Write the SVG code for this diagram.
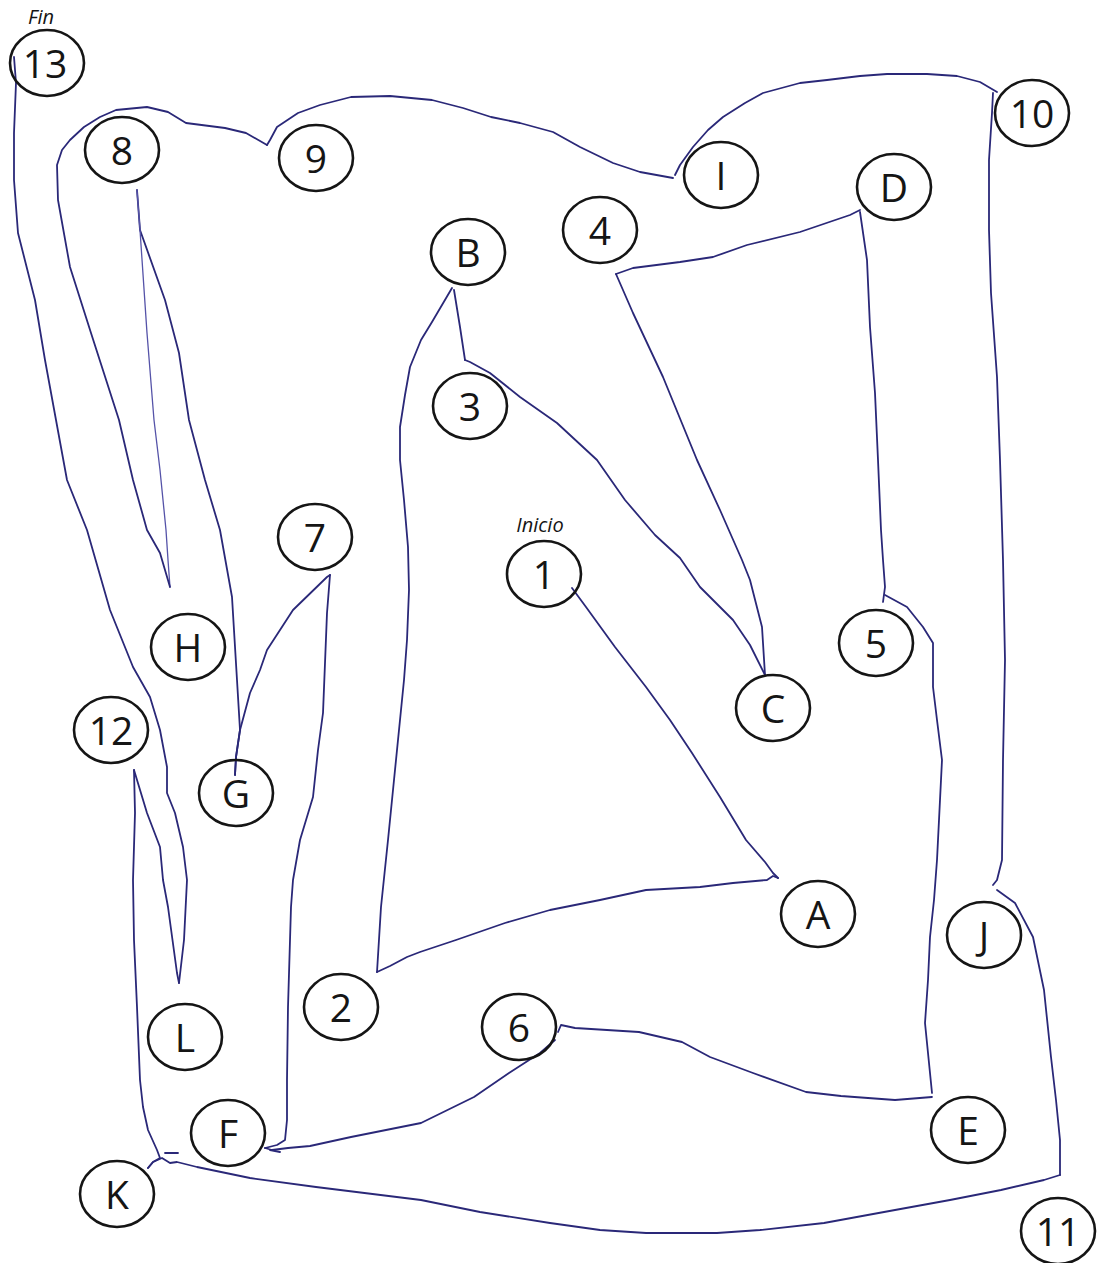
<svg xmlns="http://www.w3.org/2000/svg" width="1097" height="1263" viewBox="0 0 1097 1263">
<style>
.n ellipse{fill:none;stroke:#151515;stroke-width:2.6}
.n text{font-family:"Open Sans","Noto Sans","DejaVu Sans",sans-serif;font-size:39px;fill:#151515;text-anchor:middle}
.lbl{font-family:"Open Sans","Noto Sans","DejaVu Sans",sans-serif;font-size:20px;font-style:italic;fill:#151515;text-anchor:middle}
#connectors path{fill:none;stroke:#2a2878;stroke-width:1.8;stroke-linejoin:round;stroke-linecap:round}
#connectors path.light{stroke:#5553a8;stroke-width:1.3}
</style>
<rect width="1097" height="1263" fill="#ffffff"/>
<g id="connectors">
<path id="e1A" d="M572,588 L586,607 L615,647 L646,687 L670,720 L692,753 L720,797 L746,840 L765,862 L773,873 L778,878"/>
<path id="eA2" d="M778,878 L773,876 L767,880 L733,883 L700,887 L646,890 L600,900 L550,910 L505,923 L456,940 L420,952 L407,957 L390,966 L377,972"/>
<path id="e2B" d="M377,972 L381,907 L388,840 L394,780 L400,720 L404,680 L407,640 L409,590 L408,547 L404,500 L400,460 L400,427 L405,395 L410,367 L421,340 L432,322 L452,288"/>
<path id="eB3" d="M454,290 L460,327 L465,360"/>
<path id="e3C" d="M465,360 L470,362 L490,373 L520,397 L557,423 L597,460 L625,500 L655,535 L680,558 L700,587 L733,620 L750,645 L765,675"/>
<path id="eC4" d="M765,675 L762,627 L750,580 L742,560 L720,510 L697,460 L663,377 L633,313 L616,274"/>
<path id="e4D" d="M616,274 L633,268 L680,262 L713,257 L747,245 L800,232 L850,215 L860,210"/>
<path id="eD5" d="M860,212 L867,260 L870,327 L875,393 L878,460 L881,530 L883,560 L885,587 L883,602"/>
<path id="e5E" d="M885,595 L907,607 L923,627 L933,643 L933,687 L937,720 L942,760 L940,800 L937,860 L934,900 L930,937 L928,980 L925,1023 L932,1093"/>
<path id="eE6" d="M932,1097 L895,1100 L841,1096 L806,1092 L753,1073 L710,1057 L682,1042 L639,1032 L575,1028 L561,1025 L558,1032"/>
<path id="e6F" d="M555,1040 L540,1053 L509,1073 L474,1097 L421,1123 L351,1137 L310,1146 L288,1148 L272,1150 L265,1148"/>
<path id="eF7" d="M265,1148 L277,1145 L285,1140 L287,1120 L287,1080 L288,1007 L291,907 L293,880 L300,840 L313,797 L318,750 L323,713 L327,613 L330,575"/>
<path id="eFhook" d="M270,1150 L280,1152"/>
<path id="e7G" d="M330,575 L327,577 L293,610 L267,650 L260,670 L250,693 L240,730 L236,757 L235,775"/>
<path id="eG8" d="M235,775 L236,757 L240,730 L237,680 L232,597 L220,530 L205,480 L189,420 L179,353 L165,300 L140,230 L137,190"/>
<path id="e8H" class="light" d="M137,190 L140,230 L147,333 L154,420 L160,470 L166,530 L168,560 L170,587"/>
<path id="eH9" d="M170,587 L160,553 L147,530 L133,480 L119,420 L91,333 L70,267 L58,200 L57,165 L62,150 L70,140 L84,127 L100,117 L116,110 L147,107 L168,112 L186,123 L225,128 L246,133 L267,145"/>
<path id="e9I" d="M267,145 L270,140 L277,127 L298,113 L320,105 L351,97 L390,96 L432,100 L463,108 L491,117 L520,123 L553,132 L580,147 L613,163 L640,172 L673,178"/>
<path id="eI10" d="M675,175 L680,165 L693,147 L708,130 L723,117 L745,103 L763,93 L800,83 L827,80 L860,76 L887,74 L927,74 L957,76 L980,82 L997,92"/>
<path id="e10J" d="M993,93 L992,113 L989,160 L989,230 L991,293 L997,377 L1000,460 L1003,560 L1005,660 L1003,760 L1002,860 L997,880 L993,885"/>
<path id="eJ11" d="M997,890 L1015,903 L1033,937 L1044,990 L1051,1057 L1056,1100 L1060,1140 L1060,1175"/>
<path id="e11K" d="M1060,1175 L1044,1180 L1001,1190 L950,1200 L895,1210 L824,1223 L760,1230 L717,1233 L646,1233 L600,1230 L550,1223 L480,1212 L421,1200 L316,1187 L250,1178 L197,1167 L177,1162 L170,1163 L162,1158 L153,1162 L148,1168"/>
<path id="eK12" d="M148,1168 L153,1162 L160,1158 L157,1150 L148,1130 L143,1107 L140,1080 L137,1007 L134,940 L133,880 L135,813 L134,770"/>
<path id="e12L" d="M134,770 L147,813 L160,847 L163,880 L168,907 L177,973 L179,983"/>
<path id="eL13" d="M179,983 L184,940 L186,900 L187,880 L183,847 L175,813 L167,793 L167,767 L160,730 L150,697 L133,667 L110,610 L87,530 L67,480 L56,420 L45,360 L35,300 L18,233 L14,180 L14,133 L16,83 L14,57"/>
<path id="eKmark" d="M165,1153 L178,1153"/>
</g>
<text class="lbl" x="41" y="24">Fin</text>
<text class="lbl" x="540" y="532">Inicio</text>
<g id="n13" class="n"><ellipse cx="47" cy="63" rx="37" ry="33"/><text x="45" y="78">13</text></g>
<g id="n8" class="n"><ellipse cx="122" cy="150" rx="37" ry="33"/><text x="122" y="165">8</text></g>
<g id="n9" class="n"><ellipse cx="316" cy="158" rx="37" ry="33"/><text x="316" y="173">9</text></g>
<g id="nB" class="n"><ellipse cx="468" cy="252" rx="37" ry="33"/><text x="468" y="267">B</text></g>
<g id="n4" class="n"><ellipse cx="600" cy="230" rx="37" ry="33"/><text x="600" y="245">4</text></g>
<g id="nI" class="n"><ellipse cx="721" cy="175" rx="37" ry="33"/><text x="721" y="190">I</text></g>
<g id="nD" class="n"><ellipse cx="894" cy="187" rx="37" ry="33"/><text x="894" y="202">D</text></g>
<g id="n10" class="n"><ellipse cx="1032" cy="113" rx="37" ry="33"/><text x="1032" y="128">10</text></g>
<g id="n3" class="n"><ellipse cx="470" cy="406" rx="37" ry="33"/><text x="470" y="421">3</text></g>
<g id="n1" class="n"><ellipse cx="544" cy="574" rx="37" ry="33"/><text x="544" y="589">1</text></g>
<g id="n7" class="n"><ellipse cx="315" cy="537" rx="37" ry="33"/><text x="315" y="552">7</text></g>
<g id="n5" class="n"><ellipse cx="876" cy="643" rx="37" ry="33"/><text x="876" y="658">5</text></g>
<g id="nC" class="n"><ellipse cx="773" cy="708" rx="37" ry="33"/><text x="773" y="723">C</text></g>
<g id="nH" class="n"><ellipse cx="188" cy="647" rx="37" ry="33"/><text x="188" y="662">H</text></g>
<g id="n12" class="n"><ellipse cx="111" cy="730" rx="37" ry="33"/><text x="111" y="745">12</text></g>
<g id="nG" class="n"><ellipse cx="236" cy="793" rx="37" ry="33"/><text x="236" y="808">G</text></g>
<g id="nA" class="n"><ellipse cx="818" cy="914" rx="37" ry="33"/><text x="818" y="929">A</text></g>
<g id="nJ" class="n"><ellipse cx="984" cy="935" rx="37" ry="33"/><text x="984" y="950">J</text></g>
<g id="n2" class="n"><ellipse cx="341" cy="1007" rx="37" ry="33"/><text x="341" y="1022">2</text></g>
<g id="n6" class="n"><ellipse cx="519" cy="1027" rx="37" ry="33"/><text x="519" y="1042">6</text></g>
<g id="nL" class="n"><ellipse cx="185" cy="1037" rx="37" ry="33"/><text x="185" y="1052">L</text></g>
<g id="nF" class="n"><ellipse cx="228" cy="1133" rx="37" ry="33"/><text x="228" y="1148">F</text></g>
<g id="nE" class="n"><ellipse cx="968" cy="1130" rx="37" ry="33"/><text x="968" y="1145">E</text></g>
<g id="nK" class="n"><ellipse cx="117" cy="1194" rx="37" ry="33"/><text x="117" y="1209">K</text></g>
<g id="n11" class="n"><ellipse cx="1058" cy="1231" rx="37" ry="33"/><text x="1058" y="1246">11</text></g>
</svg>
